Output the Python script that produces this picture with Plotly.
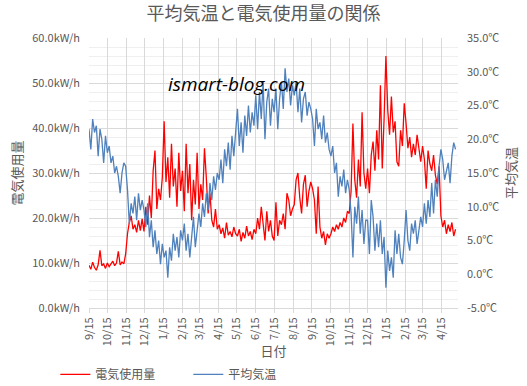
import pandas as pd
import plotly.graph_objects as go

# --- data (every 3 days from 2016-09-15) ---
start_date = "2016-09-15"
step = "3D"

electricity_kwh = [
    9.5, 8.6, 10.2, 9.0, 8.4, 9.6, 12.8, 9.4, 9.8, 8.8,
    10.0, 9.2, 9.8, 10.4, 9.4, 10.0, 12.6, 9.6, 10.2, 9.8,
    12.0, 16.5, 19.0, 20.5, 17.5, 18.5, 16.8, 19.5, 17.2, 19.8,
    17.0, 22.5, 18.5, 25.0, 20.0, 30.5, 35.0, 22.0, 26.5, 24.0, 29.0,
    41.5, 28.0, 33.5, 24.5, 36.5, 27.0, 31.0, 22.5, 34.5, 26.0,
    30.5, 21.5, 36.5, 25.5, 32.0, 19.5, 28.5, 23.0, 34.5, 22.0,
    27.5, 24.0, 35.5, 29.0, 21.0, 25.5, 19.5, 18.0, 22.0, 17.5,
    18.5, 16.5, 17.8, 15.5, 19.0, 16.2, 17.0, 15.8, 18.0, 16.5,
    16.0, 17.5, 14.8, 16.8, 15.5, 18.2, 16.0, 17.0, 15.2, 17.5,
    16.5, 20.0, 17.5, 22.5, 18.0, 15.0, 21.5, 17.0, 19.5, 16.0,
    15.0, 23.5, 16.0, 19.5, 18.5, 21.0, 17.5, 25.5, 24.0, 20.5, 22.0,
    23.0, 28.5, 30.0, 24.5, 21.0, 27.5, 29.5, 22.5, 26.0, 28.0,
    26.5, 24.0, 16.5, 27.0, 18.0, 15.5, 17.0, 14.0, 16.5, 15.5,
    16.5, 18.0, 17.0, 18.5, 17.5, 19.0, 18.0, 20.0, 19.0, 21.5,
    21.0, 26.0, 41.0, 28.5, 24.5, 33.0, 27.0, 43.5, 30.0, 26.5,
    31.0, 25.5, 34.0, 37.0, 30.5, 39.5, 33.0, 49.5, 31.0, 42.0, 56.0,
    44.0, 38.5, 47.0, 39.0, 41.5, 32.5, 31.5, 39.5, 36.0, 45.5,
    41.0, 35.5, 38.0, 33.5, 36.5, 34.0, 38.5, 35.0, 32.5, 36.0,
    33.0, 26.5, 35.0, 32.0, 30.5, 34.0, 29.5, 27.5, 31.5, 20.5,
    18.0, 19.5, 16.5, 18.5, 17.0, 19.0, 16.0, 17.5,
]

avg_temp_c = [
    21.5, 18.5, 23.0, 21.0, 22.0, 17.5, 21.5, 20.0, 16.5, 20.5,
    18.0, 19.0, 16.5, 17.5, 15.0, 16.0, 14.5, 12.0, 15.0, 16.5,
    16.0, 12.5, 7.5, 10.5, 9.0, 11.5, 8.0, 12.0, 9.5, 11.0,
    9.5, 7.0, 10.5, 5.5, 8.0, 4.0, 6.5, 3.0, 5.0, 1.5, 4.5,
    2.5, 3.5, -0.5, 4.0, 2.0, 6.0, 3.5, 5.5, 2.5, 6.5,
    5.0, 7.5, 3.5, 6.0, 2.5, 5.5, 8.5, 4.0, 7.0, 9.0,
    7.0, 10.5, 8.5, 12.0, 9.5, 13.5, 11.0, 14.5, 12.5, 15.0,
    14.0, 17.0, 13.5, 18.5, 16.0, 19.5, 15.5, 20.5, 17.5, 21.0,
    24.5, 19.0, 22.5, 18.0, 23.5, 20.5, 25.0, 21.0, 24.0, 22.0,
    26.5, 21.5, 27.0, 23.0, 28.5, 20.0, 25.5, 27.5, 22.0, 26.0,
    24.0, 27.5, 21.5, 26.0, 28.5, 24.5, 30.5, 27.0, 29.0, 25.0, 28.0,
    26.5, 28.5, 24.0, 27.5, 22.5, 26.0, 27.0, 23.5, 25.5, 24.5,
    23.0, 19.0, 24.5, 21.5, 22.5, 20.0, 23.5, 19.5, 21.0, 18.5,
    17.5, 19.0, 15.0, 16.5, 11.5, 14.5, 13.0, 15.5, 12.0, 14.0,
    12.5, 9.0, 2.5, 10.0, 7.5, 11.5, 6.0, 9.5, 4.5, 8.0,
    8.0, 3.0, 11.0, 8.5, 3.5, 7.5, 4.0, 8.0, 3.0, 5.5, -2.0,
    3.5, 0.5, 2.5, -0.5, 6.5, 3.0, 6.0, 2.5, 1.5, 5.0,
    9.5, 5.0, 3.5, 7.5, 6.0, 8.0, 4.5, 6.5, 8.5, 7.0,
    10.5, 7.5, 11.0, 8.5, 13.5, 9.0, 14.0, 11.5, 16.0, 18.5,
    17.0, 14.0, 15.5, 16.5, 13.5, 17.5, 19.5, 18.5,
]

tick_dates = [f"{y}-{m:02d}-15" for y, m in
              [(2016, 9), (2016, 10), (2016, 11), (2016, 12),
               (2017, 1), (2017, 2), (2017, 3), (2017, 4), (2017, 5), (2017, 6),
               (2017, 7), (2017, 8), (2017, 9), (2017, 10), (2017, 11), (2017, 12),
               (2018, 1), (2018, 2), (2018, 3), (2018, 4)]]
tick_labels = ["9/15", "10/15", "11/15", "12/15", "1/15", "2/15", "3/15", "4/15", "5/15", "6/15",
               "7/15", "8/15", "9/15", "10/15", "11/15", "12/15", "1/15", "2/15", "3/15", "4/15"]

left_ticks = [0, 10, 20, 30, 40, 50, 60]
left_labels = [f"{v:.1f}kW/h" for v in left_ticks]
right_ticks = [-5, 0, 5, 10, 15, 20, 25, 30, 35]
right_labels = [f"{v:.1f}℃" for v in right_ticks]

dates = pd.date_range(start_date, periods=len(electricity_kwh), freq=step)

JP = "Noto Sans CJK JP"
GREY = "#595959"

fig = go.Figure()
fig.add_trace(go.Scatter(x=dates, y=electricity_kwh, name="電気使用量", mode="lines",
                         line=dict(color="#FF0000", width=1.3), yaxis="y"))
fig.add_trace(go.Scatter(x=dates, y=avg_temp_c, name="平均気温", mode="lines",
                         line=dict(color="#4F81BD", width=1.3), yaxis="y2"))

fig.update_layout(
    width=527, height=386,
    margin=dict(l=89, r=69, t=38, b=78, autoexpand=False),
    paper_bgcolor="white", plot_bgcolor="white",
    font=dict(family=JP, color=GREY, size=11),
    title=dict(text="平均気温と電気使用量の関係", x=0.5, xanchor="center",
               yref="container", y=0.965, yanchor="middle",
               font=dict(size=18, color=GREY, family=JP)),
    showlegend=True,
    legend=dict(orientation="h", xref="container", yref="container",
                x=0.105, xanchor="left", y=0.03, yanchor="middle",
                font=dict(size=12, color=GREY, family=JP), bgcolor="rgba(0,0,0,0)",
                itemwidth=30, entrywidth=88, tracegroupgap=0),
    xaxis=dict(type="date", range=["2016-09-15", "2018-05-12"],
               tickvals=tick_dates, ticktext=tick_labels, tickangle=-90,
               showgrid=True, gridcolor="#d9d9d9", gridwidth=1,
               ticks="outside", ticklen=4, tickcolor="#d9d9d9",
               showline=True, linecolor="#d9d9d9",
               tickfont=dict(size=11, color=GREY),
               title=dict(text="日付", font=dict(size=13, color=GREY), standoff=8),
               zeroline=False),
    yaxis=dict(range=[0, 60], tickvals=left_ticks, ticktext=left_labels,
               showgrid=True, gridcolor="#d9d9d9", gridwidth=1,
               minor=dict(dtick=2, showgrid=True, gridcolor="#efefef", gridwidth=1),
               ticks="", ticklabelstandoff=8,
               tickfont=dict(size=11, color=GREY),
               title=dict(text="電気使用量", font=dict(size=13, color=GREY), standoff=6),
               zeroline=False, showline=False),
    yaxis2=dict(range=[-5, 35], tickvals=right_ticks, ticktext=right_labels,
                overlaying="y", side="right", showgrid=False,
                ticks="", ticklabelstandoff=8,
                tickfont=dict(size=11, color=GREY),
                title=dict(text="平均気温", font=dict(size=13, color=GREY), standoff=8),
                zeroline=False, showline=False),
    annotations=[dict(text="<i>ismart-blog.com</i>", xref="paper", yref="paper",
                      x=0.40, y=0.83, xanchor="center", yanchor="middle", showarrow=False,
                      font=dict(size=19, color="#000000", family="Open Sans"))],
)

fig.write_html("out.html", config={"displayModeBar": False},
               post_script="document.body.style.margin='0';document.body.style.padding='0';")
